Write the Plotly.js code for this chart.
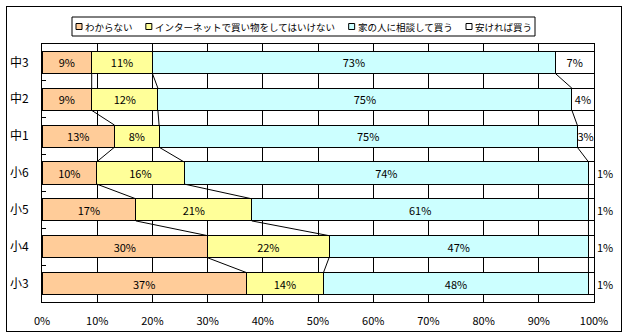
<!DOCTYPE html>
<html><head><meta charset="utf-8">
<script src="https://cdn.plot.ly/plotly-3.0.1.min.js"></script>
<style>
body{margin:0;padding:0;background:#fff;}
#wrap{position:relative;width:628px;height:336px;}
#chart{position:absolute;left:0;top:0;width:628px;height:336px;}
#frame{position:absolute;left:6px;top:6px;width:616px;height:326px;box-sizing:border-box;border:1px solid #000;pointer-events:none;}
</style></head>
<body><div id="wrap"><div id="chart"></div><div id="frame"></div></div>
<script>
// bottom to top
const categories = ['小3','小4','小5','小6','中1','中2','中3'];
const seriesNames = ['わからない','インターネットで買い物をしてはいけない','家の人に相談して買う','安ければ買う'];
const wakaranai  = [37,30,17,10,13, 9, 9];
const ikenai     = [14,22,21,16, 8,12,11];
const soudan     = [48,47,61,74,75,75,73];
const yasukereba = [ 1, 1, 1, 1, 3, 4, 7];
const colors = ['#FFCC99','#FFFF99','#CCFFFF','#FFFFFF'];

const seriesData = [wakaranai, ikenai, soudan, yasukereba];
const idx = categories.map((c,i)=>i);
const FONT = '"Noto Sans CJK JP", "DejaVu Sans", sans-serif';
const BW = 0.6;

const W = 628, H = 336;
const M = {l: 42, r: 34, t: 44, b: 34};
const PW = W - M.l - M.r, PH = H - M.t - M.b;
const px2x = px => (px - M.l) / PW;
const py2y = py => 1 - (py - M.t) / PH;

const traces = seriesData.map((vals, s) => ({
  type: 'bar', orientation: 'h', name: seriesNames[s],
  x: vals, y: idx, width: BW,
  marker: {color: colors[s], line: {color: '#000', width: 1}},
  text: vals.map(v => v + '%'),
  textposition: s === 3 ? vals.map(v => v <= 1 ? 'outside' : 'inside') : 'inside',
  insidetextanchor: 'middle',
  constraintext: 'none',
  textangle: 0,
  textfont: {family: FONT, size: 11, color: '#000'},
  outsidetextfont: {family: FONT, size: 11, color: '#000'},
  cliponaxis: false,
  showlegend: false,
  hoverinfo: 'skip'
}));

// normalized cumulative boundaries (100% stacked) for series lines
const totals = idx.map(i => seriesData.reduce((a, arr) => a + arr[i], 0));
const cum = [[],[],[]];
idx.forEach(i => {
  let acc = 0;
  for (let s = 0; s < 3; s++) { acc += seriesData[s][i]; cum[s].push(acc / totals[i] * 100); }
});
const lx = [], ly = [];
for (let s = 0; s < 3; s++) {
  for (let i = 0; i < idx.length - 1; i++) {
    lx.push(cum[s][i], cum[s][i+1], null);
    ly.push(idx[i] + BW/2, idx[i+1] - BW/2, null);
  }
}
traces.push({type: 'scatter', mode: 'lines', x: lx, y: ly, yaxis: 'y2',
  line: {color: '#000', width: 1}, showlegend: false, hoverinfo: 'skip', cliponaxis: false});

// custom compact legend (full-width glyphs: ~1em per character)
const LFS = 9.5;
const tw = seriesNames.map(n => n.length * LFS);
const boxL = 72, boxR = 535, boxT = 17, boxB = 36, yc = 26.5, sq = 6, sgap = 9;
const used = 4 + 3 + tw.reduce((a, b) => a + b + sgap, 0);
const itemGap = Math.max(4, (boxR - boxL - used) / 3);
const shapes = [{type: 'rect', xref: 'paper', yref: 'paper',
  x0: px2x(boxL), x1: px2x(boxR), y0: py2y(boxB), y1: py2y(boxT),
  line: {color: '#000', width: 1}, fillcolor: '#fff', layer: 'above'}];
const annotations = [];
let cx = boxL + 4;
seriesNames.forEach((n, s) => {
  shapes.push({type: 'rect', xref: 'paper', yref: 'paper',
    x0: px2x(cx), x1: px2x(cx + sq), y0: py2y(yc + sq/2), y1: py2y(yc - sq/2),
    line: {color: '#000', width: 1}, fillcolor: colors[s], layer: 'above'});
  annotations.push({xref: 'paper', yref: 'paper', x: px2x(cx + sgap - 1), y: py2y(yc),
    xanchor: 'left', yanchor: 'middle', showarrow: false, text: n,
    font: {family: FONT, size: LFS, color: '#000'}, borderpad: 0});
  cx += sgap + tw[s] + itemGap;
});

const layout = {
  width: W, height: H,
  margin: M,
  paper_bgcolor: '#fff', plot_bgcolor: '#fff',
  barmode: 'stack', barnorm: 'percent',
  showlegend: false,
  shapes: shapes, annotations: annotations,
  xaxis: {range: [0, 100], tickmode: 'linear', tick0: 0, dtick: 10, ticksuffix: '%',
    showgrid: true, gridcolor: '#000', gridwidth: 1, zeroline: false,
    showline: true, linecolor: '#000', linewidth: 1, mirror: true,
    ticks: '', ticklabelstandoff: 9,
    tickfont: {family: FONT, size: 11, color: '#000'}, fixedrange: true},
  yaxis: {range: [-0.5, 6.5], tickmode: 'array', tickvals: idx, ticktext: categories,
    showgrid: false, zeroline: false, showline: true, linecolor: '#000', linewidth: 1, mirror: true,
    ticks: '', ticklabelstandoff: 10,
    tickfont: {family: FONT, size: 12, color: '#000'}, fixedrange: true},
  yaxis2: {overlaying: 'y', matches: 'y', side: 'left', range: [-0.5, 6.5],
    tickmode: 'array', tickvals: idx.map(i => i - 0.5).concat([idx.length - 0.5]),
    ticks: 'inside', ticklen: 4, tickcolor: '#000', tickwidth: 1,
    showticklabels: false, showgrid: false, zeroline: false, showline: false}
};
Plotly.newPlot('chart', traces, layout, {staticPlot: true});
</script></body></html>
